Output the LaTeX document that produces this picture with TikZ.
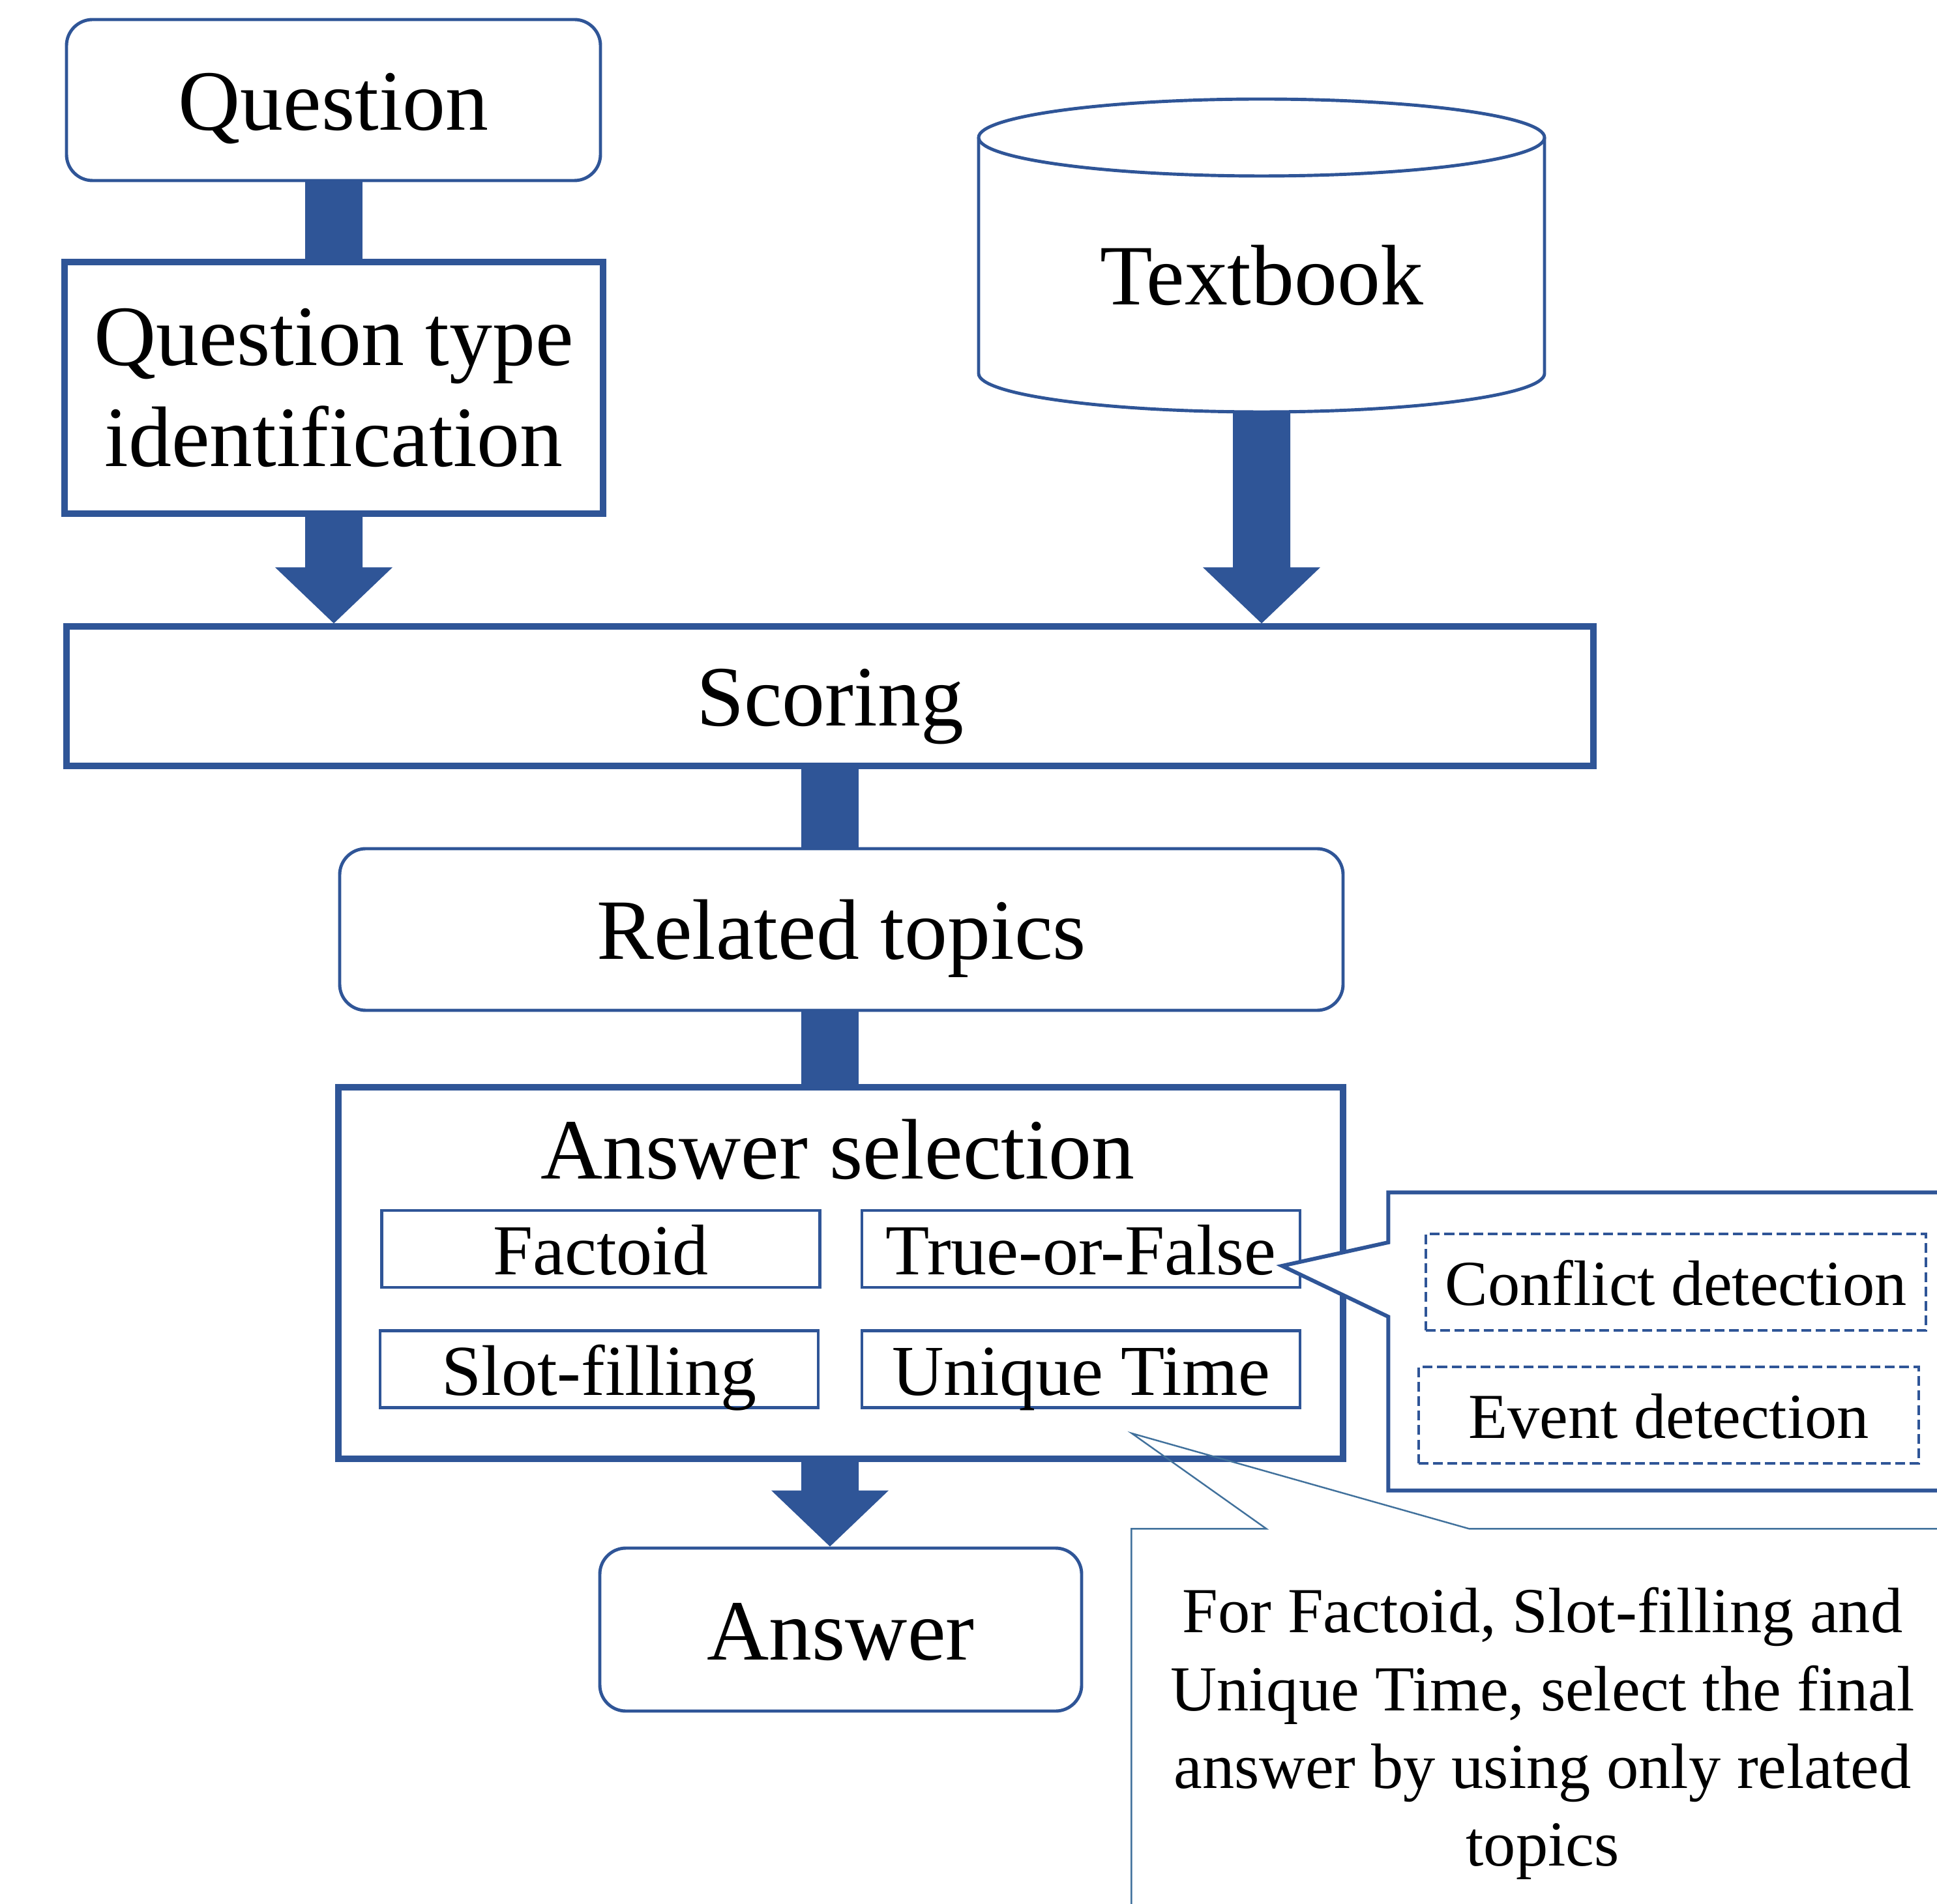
\documentclass[tikz,border=0pt]{standalone}
\usepackage{fontspec}
\setmainfont{Liberation Serif}
\usetikzlibrary{calc, positioning}

\definecolor{flowblue}{HTML}{2F5597}
\definecolor{noteblue}{HTML}{41719C}
\newcommand{\flowbig}{\fontsize{37.5pt}{44.1pt}\selectfont}
\newcommand{\flowmid}{\fontsize{31.3pt}{37pt}\selectfont}
\newcommand{\flowsmall}{\fontsize{28pt}{33.9pt}\selectfont}

\begin{document}
\begin{tikzpicture}[
  linebox/.style = {draw=flowblue, line width=1.4pt, inner sep=0pt, font=\flowbig},
  box/.style = {linebox, text height=1.17cm, text depth=0.25cm},
  roundbox/.style = {box, rounded corners=0.4cm},
  thickbox/.style = {box, line width=2.6pt},
  subbox/.style = {box, font=\flowmid, text height=0.98cm, text depth=0.19cm,
    minimum width=6.72cm, minimum height=1.18cm},
  dashbox/.style = {box, line width=1.3pt, dash pattern=on 4.3pt off 2pt, font=\flowsmall,
    text height=0.88cm, text depth=0.17cm, minimum width=7.67cm, minimum height=1.48cm},
  fatstem/.style = {fill=flowblue, to path={let \p1=(\tikztostart), \p2=(\tikztotarget) in
    (\x1-0.44cm,\y1) rectangle (\x1+0.44cm,\y2)}},
  fatarrow/.style = {fill=flowblue, to path={let \p1=(\tikztostart), \p2=(\tikztotarget) in
    (\x1-0.44cm,\y1) -- (\x1+0.44cm,\y1) -- (\x1+0.44cm,\y2+0.86cm) -- (\x1+0.90cm,\y2+0.86cm)
    -- (\x1,\y2) -- (\x1-0.90cm,\y2+0.86cm) -- (\x1-0.44cm,\y2+0.86cm) -- cycle}},
  callout/.style = {draw=flowblue, line width=1.7pt, fill=white},
  notecallout/.style = {draw=noteblue, line width=0.7pt}
]
\useasboundingbox (0,0) rectangle (29.71,29.20);
\clip (0,0) rectangle (29.71,29.20);

% Inputs
\node[roundbox, minimum width=8.19cm, minimum height=2.47cm] (question) at (5.115,27.665) {Question};
\node[linebox, line width=2.6pt, minimum width=8.26cm, minimum height=3.86cm, align=center]
  (qtype) at (5.12,23.25) {Question type\\identification};

% Textbook cylinder
\node[box, draw=none, outer sep=0pt, minimum width=8.68cm, minimum height=4.21cm] (textbook) at (19.35,24.985) {Textbook};
\draw[flowblue, line width=1.4pt] (textbook.north) ellipse [x radius=4.34cm, y radius=0.59cm];
\draw[flowblue, line width=1.4pt] (textbook.north west) -- ($(textbook.south west)+(0,0.59)$)
  arc[start angle=180, end angle=360, x radius=4.34cm, y radius=0.59cm] -- (textbook.north east);

% Pipeline
\node[thickbox, minimum width=23.42cm, minimum height=2.14cm] (scoring) at (12.73,18.52) {Scoring};
\node[roundbox, minimum width=15.39cm, minimum height=2.48cm] (related) at (12.905,14.94) {Related topics};
\node[thickbox, minimum width=15.41cm, minimum height=5.70cm] (ansel) at (12.895,9.67) {};
\node[box, draw=none] (anseltitle) at (12.85,11.58) {Answer selection};
\node[subbox] (factoid) at (9.215,10.04) {Factoid};
\node[subbox] (tof) at (16.58,10.04) {True-or-False};
\node[subbox] (slot) at (9.19,8.195) {Slot-filling};
\node[subbox] (unique) at (16.58,8.195) {Unique Time};
\node[roundbox, minimum width=7.39cm, minimum height=2.50cm] (answer) at (12.895,4.20) {Answer};

% Block arrows
\path[fatstem] (question.south) to (qtype.north);
\path[fatarrow] (qtype.south) to (qtype.south |- scoring.north);
\path[fatarrow] (textbook.south) to (textbook.south |- scoring.north);
\path[fatstem] (scoring.south) to (scoring.south |- related.north);
\path[fatstem] (scoring.south |- related.south) to (scoring.south |- ansel.north);
\path[fatarrow] (scoring.south |- ansel.south) to (scoring.south |- answer.north);

% True-or-False callout
\node[minimum width=8.80cm, minimum height=4.56cm, inner sep=0pt] (detect) at (25.70,8.62) {};
\draw[callout] (detect.north west) -- (detect.north east) -- (detect.south east) -- (detect.south west)
  -- ($(detect.west)+(0,0.38)$) -- ($(tof.east)+(-0.30,-0.26)$) -- ($(detect.west)+(0,1.52)$) -- cycle;
\node[dashbox] (conflict) at (25.705,9.53) {Conflict detection};
\node[dashbox] (event) at (25.595,7.49) {Event detection};

% Note callout
\node[font=\flowsmall, align=center, inner sep=0pt, minimum width=12.60cm, minimum height=6.27cm]
  (note) at (23.66,2.605) {For Factoid, Slot-filling and\\Unique Time, select the final\\answer by using only related\\topics};
\draw[notecallout] (note.south west) -- (note.north west) -- ($(note.north west)+(2.07,0)$)
  -- ($(unique.south)+(0.78,-0.37)$) -- ($(note.north west)+(5.18,0)$) -- (note.north east) -- (note.south east);

\end{tikzpicture}
\end{document}
